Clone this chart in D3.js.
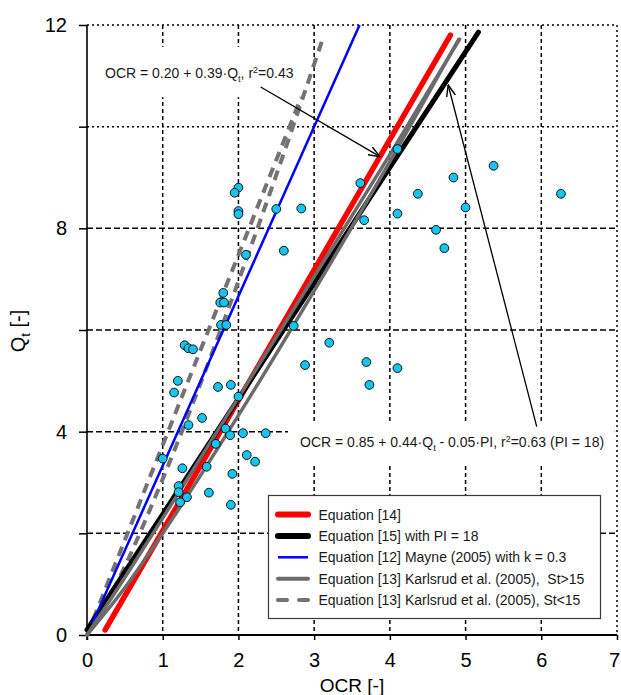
<!DOCTYPE html>
<html>
<head>
<meta charset="utf-8">
<script src="https://cdn.jsdelivr.net/npm/d3@7"></script>
<style>
  html, body { margin: 0; padding: 0; background: #fff; }
  svg { display: block; font-family: Arial, "Liberation Sans", sans-serif; }
</style>
</head>
<body>
<svg id="chart" width="621" height="695"></svg>
<script>
// ---------------- DATA ----------------
// measured points (OCR, Qt)
const pointOcr = [2.00,1.95,2.00,2.00,2.50,2.83,4.10,3.61,5.37,4.84,4.37,6.26,3.66,4.10,5.00,4.61,4.72,
  3.20,2.88,3.69,3.73,4.10,2.10,2.60,1.80,1.76,1.81,1.77,1.84,2.73,1.29,1.34,1.40,1.20,1.15,1.73,1.90,2.00,
  1.52,1.34,1.83,1.89,2.06,2.36,1.70,2.11,2.22,1.00,1.26,1.58,1.92,1.21,1.21,1.32,1.23,1.61,1.90];
const pointQt = [8.80,8.70,8.34,8.28,8.38,8.39,9.56,8.89,9.23,9.00,8.68,8.68,8.16,8.29,8.41,7.97,7.61,
  5.75,5.31,5.37,4.92,5.25,7.48,7.56,6.73,6.54,6.54,6.10,6.10,6.08,5.70,5.64,5.62,5.00,4.77,4.88,4.92,4.69,
  4.27,4.13,4.06,3.93,3.97,3.97,3.76,3.54,3.41,3.47,3.28,3.31,3.17,2.93,2.81,2.71,2.61,2.80,2.56];

// correlation lines (OCR, Qt)
const eq14Ocr = [0.24, 4.80],  eq14Qt = [0.10, 11.80];
const eq15Ocr = [0.00, 5.17],  eq15Qt = [0.10, 11.86];
const eq12Ocr = [0.07, 3.60],  eq12Qt = [0.23, 12.00];
const karlHiAOcr = [0, 0.5, 1, 2, 3, 4, 4.92], karlHiAQt = [0, 1.13, 2.30, 4.67, 7.05, 9.45, 11.72];
const karlHiBOcr = [0, 0.5, 1, 2, 3, 4, 4.91], karlHiBQt = [0, 0.93, 2.00, 4.32, 6.77, 9.31, 11.72];
const karlLoAOcr = [0, 2.83], karlLoAQt = [0, 10.58];
const karlLoBOcr = [0, 0.25, 0.5, 1, 1.5, 2, 2.5, 3.1], karlLoBQt = [0, 0.60, 1.35, 3.07, 4.95, 6.96, 9.05, 11.67];

const xTicks = [0,1,2,3,4,5,6,7];
const yTicks = [0,2,4,6,8,10,12];
const yTickLabels = ["0","","4","","8","","12"];
const legendLabels = [
  "Equation [14]",
  "Equation [15] with PI = 18",
  "Equation [12] Mayne (2005) with k = 0.3",
  "Equation [13] Karlsrud et al. (2005),  St>15",
  "Equation [13] Karlsrud et al. (2005), St<15"
];

// ---------------- LAYOUT ----------------
const svg = d3.select("#chart");
const x = d3.scaleLinear().domain([0, 7]).range([87, 617]);
const y = d3.scaleLinear().domain([0, 12]).range([635, 25]);

const zip = (a, b) => a.map((v, i) => [v, b[i]]);
const line = d3.line().x(d => x(d[0])).y(d => y(d[1])).curve(d3.curveMonotoneX);

// grid
const grid = svg.append("g");
[1,2,3,4,5,6].forEach(v => grid.append("line")
  .attr("x1", x(v)).attr("x2", x(v)).attr("y1", y(12)).attr("y2", y(0))
  .attr("stroke", "#000").attr("stroke-width", 1.5).attr("stroke-dasharray", "4,3"));
grid.append("line").attr("x1", x(7)).attr("x2", x(7)).attr("y1", y(12)).attr("y2", y(0))
  .attr("stroke", "#000").attr("stroke-width", 1.5).attr("stroke-dasharray", "2,3");
[2,4,6,8].forEach(v => grid.append("line")
  .attr("x1", x(0)).attr("x2", x(7)).attr("y1", y(v)).attr("y2", y(v))
  .attr("stroke", "#000").attr("stroke-width", 1.5).attr("stroke-dasharray", "6,3"));
[10,12].forEach(v => grid.append("line")
  .attr("x1", x(0)).attr("x2", x(7)).attr("y1", y(v)).attr("y2", y(v))
  .attr("stroke", "#000").attr("stroke-width", 1.5).attr("stroke-dasharray", "2,3"));

// white backgrounds behind annotations
svg.append("rect").attr("x", x(0.145)).attr("y", y(11.57))
  .attr("width", x(2.92) - x(0.145)).attr("height", y(10.58) - y(11.57)).attr("fill", "#fff");
svg.append("rect").attr("x", x(2.655)).attr("y", y(4.17))
  .attr("width", x(6.97) - x(2.655)).attr("height", y(3.34) - y(4.17)).attr("fill", "#fff");

// axes
const yAxis = d3.axisLeft(y).tickValues(yTicks).tickSize(8).tickPadding(12)
  .tickFormat((d, i) => yTickLabels[i]);
const gy = svg.append("g").attr("transform", `translate(${x(0)},0)`).call(yAxis);
gy.select(".domain").attr("stroke-width", 1.6).attr("d", `M0,${y(12)}V${y(0) + 5}`);
gy.selectAll(".tick line").attr("stroke-width", 1.5);
gy.selectAll("text").attr("font-size", 20).attr("font-family", "Arial, 'Liberation Sans', sans-serif").attr("fill", "#000");

const xAxis = d3.axisBottom(x).tickValues(xTicks).tickSize(5).tickPadding(13).tickFormat(d3.format("d"));
const gx = svg.append("g").attr("transform", `translate(0,${y(0)})`).call(xAxis);
gx.select(".domain").attr("stroke-width", 2).attr("d", `M${x(0)},0H${x(7)}`);
gx.selectAll(".tick line").attr("stroke-width", 1.5);
gx.selectAll("text").attr("font-size", 20).attr("font-family", "Arial, 'Liberation Sans', sans-serif").attr("fill", "#000")
  .attr("dx", d => d === 7 ? -3 : 0);

// axis titles
svg.append("text").attr("x", 352).attr("y", 692).attr("text-anchor", "middle")
  .attr("font-size", 19).text("OCR [-]");
const yt = svg.append("text").attr("transform", "translate(25,331) rotate(-90)")
  .attr("text-anchor", "middle").attr("font-size", 20);
yt.append("tspan").text("Q");
yt.append("tspan").attr("font-size", 13).attr("dy", 5).text("t");
yt.append("tspan").attr("dy", -5).text(" [-]");

// curves
const series = [
  {o: karlLoAOcr, q: karlLoAQt, c: "#737373", w: 4, dash: "10,7", cap: "butt"},
  {o: karlLoBOcr, q: karlLoBQt, c: "#737373", w: 4, dash: "10,7", cap: "butt"},
  {o: eq14Ocr, q: eq14Qt, c: "#ff0000", w: 5.5, cap: "round"},
  {o: eq15Ocr, q: eq15Qt, c: "#000000", w: 5, cap: "round"},
  {o: eq12Ocr, q: eq12Qt, c: "#0000ff", w: 2.5, cap: "butt"},
  {o: karlHiAOcr, q: karlHiAQt, c: "#6b6b6b", w: 3.5, cap: "round"},
  {o: karlHiBOcr, q: karlHiBQt, c: "#6b6b6b", w: 3.5, cap: "round"}
];
series.forEach(s => svg.append("path").attr("d", line(zip(s.o, s.q)))
  .attr("fill", "none").attr("stroke", s.c).attr("stroke-width", s.w)
  .attr("stroke-linecap", s.cap).attr("stroke-dasharray", s.dash || null));

// points
svg.append("g").selectAll("circle").data(zip(pointOcr, pointQt)).join("circle")
  .attr("cx", d => x(d[0])).attr("cy", d => y(d[1])).attr("r", 4.4)
  .attr("fill", "#16c4ee").attr("stroke", "#000").attr("stroke-width", 0.9);

// arrows
const defs = svg.append("defs");
defs.append("marker").attr("id", "arr").attr("viewBox", "0 0 12 10").attr("refX", 11.5).attr("refY", 5)
  .attr("markerWidth", 12).attr("markerHeight", 10).attr("markerUnits", "userSpaceOnUse").attr("orient", "auto")
  .append("path").attr("d", "M0,0.5 L11.5,5 L0,9.5").attr("fill", "none").attr("stroke", "#000").attr("stroke-width", 1.4);
svg.append("line").attr("x1", x(2.294)).attr("y1", y(10.78)).attr("x2", x(3.87)).attr("y2", y(9.41))
  .attr("stroke", "#000").attr("stroke-width", 1.3).attr("marker-end", "url(#arr)");
svg.append("line").attr("x1", x(5.94)).attr("y1", y(4.10)).attr("x2", x(4.77)).attr("y2", y(10.82))
  .attr("stroke", "#000").attr("stroke-width", 1.3).attr("marker-end", "url(#arr)");

// annotation texts
function eqText(px, py, parts) {
  const t = svg.append("text").attr("x", px).attr("y", py).attr("font-size", 14).attr("fill", "#1a1a1a")
    .style("white-space", "pre");
  parts.forEach(p => {
    const ts = t.append("tspan").text(p.s);
    if (p.sub) ts.attr("font-size", 9).attr("dy", 4);
    if (p.sup) ts.attr("font-size", 9).attr("dy", -5);
    if (p.back) ts.attr("dy", p.back);
  });
}
eqText(x(0.238), y(10.96), [
  {s: "OCR = 0.20 + 0.39·Q"}, {s: "t", sub: true}, {s: ", r", back: -4}, {s: "2", sup: true}, {s: "=0.43", back: 5}
]);
eqText(x(2.814), y(3.70), [
  {s: "OCR = 0.85 + 0.44·Q"}, {s: "t", sub: true}, {s: " - 0.05·PI, r", back: -4}, {s: "2", sup: true}, {s: "=0.63 (PI = 18)", back: 5}
]);

// legend
const lg = svg.append("g");
lg.append("rect").attr("x", 268.5).attr("y", 495.5).attr("width", 332).attr("height", 123)
  .attr("fill", "#fff").attr("stroke", "#3a3a3a").attr("stroke-width", 1.2);
const legStyles = [
  {c: "#ff0000", w: 6, cap: "round"},
  {c: "#000000", w: 6, cap: "round"},
  {c: "#0000ff", w: 2.5, cap: "butt"},
  {c: "#6b6b6b", w: 4, cap: "round"},
  {c: "#737373", w: 4, cap: "round", dash: "9,12"}
];
legendLabels.forEach((lab, i) => {
  const yy = 514.5 + i * 21.4;
  lg.append("line").attr("x1", 278).attr("x2", 308).attr("y1", yy).attr("y2", yy)
    .attr("stroke", legStyles[i].c).attr("stroke-width", legStyles[i].w)
    .attr("stroke-linecap", legStyles[i].cap).attr("stroke-dasharray", legStyles[i].dash || null);
  lg.append("text").attr("x", 318.5).attr("y", yy + 5).attr("font-size", 14).attr("fill", "#1a1a1a")
    .style("white-space", "pre").text(lab);
});
</script>
</body>
</html>
